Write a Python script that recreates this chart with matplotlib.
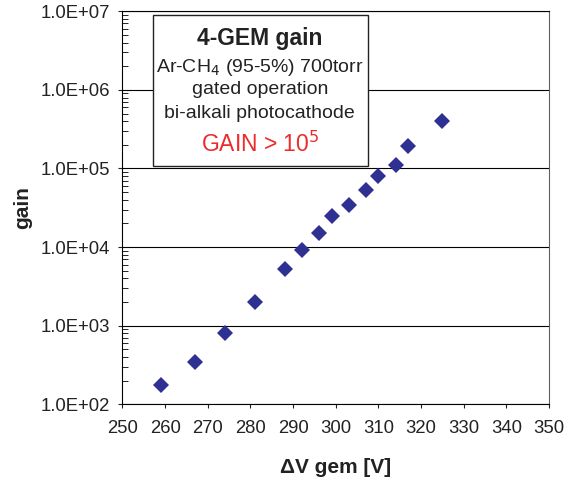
import math
import matplotlib
matplotlib.use("Agg")
import matplotlib.pyplot as plt
from matplotlib.patches import Rectangle
from matplotlib.ticker import FuncFormatter, LogLocator, MultipleLocator

plt.rcParams['font.family'] = ['Liberation Sans', 'DejaVu Sans']

# gain curve of the 4-GEM detector
dv_gem = [259, 267, 274, 281, 288, 292, 296, 299, 303, 307, 310, 314, 317, 325]
gain = [176, 348, 807, 1990, 5260, 9100, 15000, 24900, 34700, 52500,
        79700, 110000, 191500, 405000]

fig = plt.figure(figsize=(5.66, 4.78), dpi=100)
ax = fig.add_axes([0.2164, 0.1542, 0.7538, 0.8222])

ax.plot(dv_gem, gain, linestyle='none', marker='D', markersize=8,
        color='#2E3192', markeredgewidth=0)

ax.set_yscale('log')
ax.set_ylim(1e2, 1e7)
ax.set_xlim(250, 350)
ax.xaxis.set_major_locator(MultipleLocator(10))
ax.yaxis.set_major_locator(LogLocator(base=10, numticks=10))
ax.yaxis.set_minor_locator(LogLocator(base=10, subs=range(2, 10), numticks=20))
ax.yaxis.set_minor_formatter(FuncFormatter(lambda v, p: ''))
ax.yaxis.set_major_formatter(FuncFormatter(lambda v, p: '1.0E+%02d' % round(math.log10(v))))

ax.grid(axis='y', which='major', color='black', linewidth=0.8)
ax.set_axisbelow(True)
for s in ax.spines.values():
    s.set_linewidth(0.8)
ax.spines['right'].set_color('#606060')

ax.tick_params(axis='both', which='major', labelsize=13.3, colors='#222222', length=3, width=0.8)
ax.tick_params(axis='y', which='minor', direction='in', length=4, width=0.6)
ax.tick_params(axis='x', which='major', pad=8)
ax.tick_params(axis='y', which='major', pad=6)

ax.set_xlabel('ΔV gem [V]', fontsize=15, fontweight='bold', color='#222222')
ax.set_ylabel('gain', fontsize=15, fontweight='bold', color='#222222')
ax.xaxis.set_label_coords(0.5, -0.137)
ax.yaxis.set_label_coords(-0.212, 0.5)

# annotation box
ax.add_patch(Rectangle((0.0708, 0.606), 0.504, 0.384, transform=ax.transAxes,
                       facecolor='white', edgecolor='#222222', linewidth=1.0, zorder=3))
cx = 0.322
ax.text(cx, 0.932, '4-GEM gain', transform=ax.transAxes, ha='center', va='center',
        fontsize=16.5, fontweight='bold', color='#222222', zorder=4)
ax.text(cx, 0.856, r'Ar-CH$_4$ (95-5%) 700torr', transform=ax.transAxes, ha='center',
        va='center', fontsize=14, color='#222222', zorder=4)
ax.text(cx, 0.800, 'gated operation', transform=ax.transAxes, ha='center', va='center',
        fontsize=14, color='#222222', zorder=4)
ax.text(cx, 0.739, 'bi-alkali photocathode', transform=ax.transAxes, ha='center',
        va='center', fontsize=14, color='#222222', zorder=4)
ax.text(cx, 0.662, r'GAIN > 10$^5$', transform=ax.transAxes, ha='center', va='center',
        fontsize=16.5, color='#EE2A2A', zorder=4)

fig.savefig('out.png', dpi=100)
